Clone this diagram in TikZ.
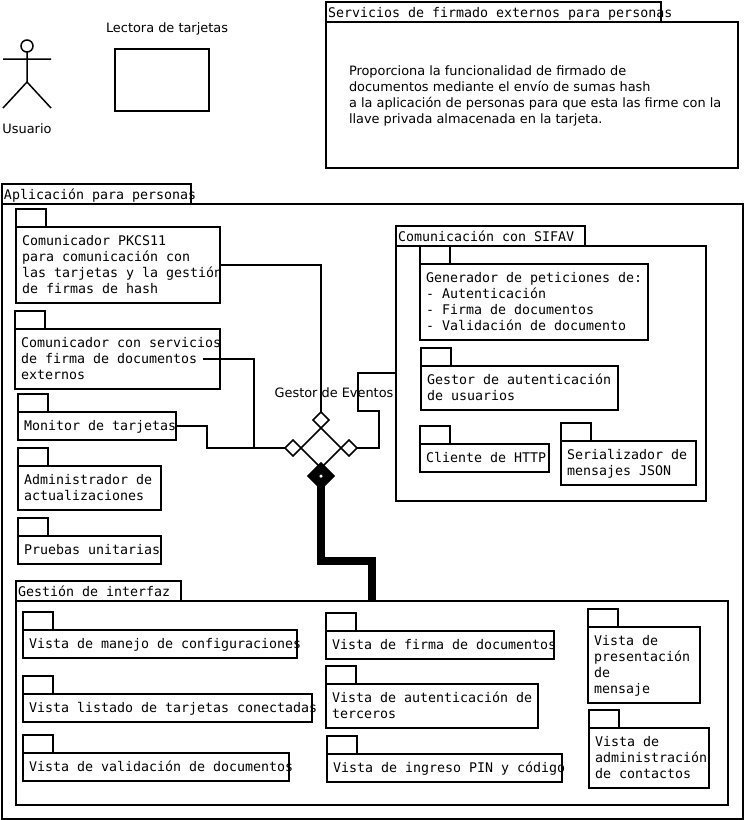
\documentclass[tikz,border=0pt]{standalone}
\usepackage{fontspec}
\setmainfont{DejaVu Sans}
\setmonofont{DejaVu Sans Mono}
\usetikzlibrary{
	calc,
	positioning,
	shapes.geometric
}
\tikzset{
	caja/.style={draw, line width=1.5pt, rectangle, inner sep=0pt, outer sep=0pt, anchor=north west},
	pestana/.style={caja, anchor=south west},
	codigo/.style={inner sep=0pt, outer sep=0pt, anchor=north west, align=left, font=\fontsize{13.3}{16}\ttfamily\selectfont},
	nota/.style={inner sep=0pt, outer sep=0pt, align=left, font=\fontsize{12.9}{16}\selectfont},
	rombo/.style={draw, diamond, aspect=1, inner sep=0pt, outer sep=0pt, line width=1.5pt, minimum width=16pt, minimum height=16pt},
	enlace/.style={line width=1.5pt, line join=miter}
}
% paquete pequeno: nombre, x, y, ancho, alto, texto
\newcommand{\paquete}[6]{
	\node[caja, minimum width=#4, minimum height=#5] (#1) at (#2,#3) {};
	\node[pestana, minimum width=30, minimum height=18] (#1 tab) at (#1.north west) {};
	\node[codigo] (#1 txt) at ($(#1.north west)+(6,6.5)$) {\rule{0pt}{12pt}#6};
}
% paquete grande: nombre, x, y, ancho, alto, ancho pestana, titulo
\newcommand{\grupo}[7]{
	\node[caja, minimum width=#4, minimum height=#5] (#1) at (#2,#3) {};
	\node[pestana, minimum width=#6, minimum height=20] (#1 tab) at (#1.north west) {};
	\node[codigo] (#1 txt) at ($(#1 tab.north west)+(2,3.2)$) {\rule{0pt}{12pt}#7};
}

\begin{document}
\begin{tikzpicture}[x=1pt, y=-1pt]
	\useasboundingbox (0,0) rectangle (744,820);

	% actor
	\draw[enlace] (27,46) circle (6);
	\draw[enlace] (27,52) -- (27,82) (3,59) -- (51,59) (3,108) -- (27,82) -- (51,108);
	\node[nota] (usuario) at (27,129) {Usuario};

	% lectora
	\node[nota] (lectora txt) at (167,29) {Lectora de tarjetas};
	\node[caja, minimum width=94, minimum height=62] (lectora) at (115,49) {};

	% servicios externos
	\grupo{externos}{326}{22}{412}{146}{335}{Servicios de firmado externos para personas}
	\node[nota, anchor=north west] (externos desc) at (349,63.5) {\rule{0pt}{12pt}Proporciona la funcionalidad de firmado de\\documentos mediante el envío de sumas hash\\a la aplicación de personas para que esta las firme con la\\llave privada almacenada en la tarjeta.};

	% aplicacion
	\grupo{app}{2}{204}{741}{615}{189}{Aplicación para personas}
	\paquete{pkcs}{16}{227}{204}{76}{Comunicador PKCS11\\para comunicación con\\las tarjetas y la gestión\\de firmas de hash}
	\paquete{firma}{15}{329}{205}{60}{Comunicador con servicios\\de firma de documentos\\externos}
	\paquete{monitor}{18}{412}{158}{28}{Monitor de tarjetas}
	\paquete{admin}{18}{466}{143}{44}{Administrador de\\actualizaciones}
	\paquete{pruebas}{18}{536}{143}{28}{Pruebas unitarias}

	% SIFAV
	\grupo{sifav}{396}{246}{310}{255}{189}{Comunicación con SIFAV}
	\paquete{generador}{420}{264}{228}{76}{Generador de peticiones de:\\- Autenticación\\- Firma de documentos\\- Validación de documento}
	\paquete{autent}{421}{366}{197}{44}{Gestor de autenticación\\de usuarios}
	\paquete{http}{420}{444}{129}{28}{Cliente de HTTP}
	\paquete{json}{561}{441}{135}{44}{Serializador de\\mensajes JSON}

	% interfaz
	\grupo{gui}{16}{601}{712}{204}{165}{Gestión de interfaz}
	\paquete{vconf}{23}{630}{274}{28}{Vista de manejo de configuraciones}
	\paquete{vlista}{23}{694}{289}{28}{Vista listado de tarjetas conectadas}
	\paquete{vvalida}{23}{753}{266}{28}{Vista de validación de documentos}
	\paquete{vfirma}{326}{631}{228}{28}{Vista de firma de documentos}
	\paquete{vterc}{326}{684}{212}{44}{Vista de autenticación de\\terceros}
	\paquete{vpin}{327}{754}{235}{28}{Vista de ingreso PIN y código}
	\paquete{vmsg}{588}{627}{112}{76}{Vista de\\presentación\\de\\mensaje}
	\paquete{vcont}{589}{728}{120}{60}{Vista de\\administración\\de contactos}

	% gestor de eventos
	\node[nota] (gestor txt) at (334,393) {Gestor de Eventos};
	\node[rombo, minimum width=40pt, minimum height=40pt] (gestor) at (321,448) {};
	\node[rombo] (entrada) at (321,420) {};
	\node[rombo] (izq) at (293,448) {};
	\node[rombo] (der) at (349,448) {};
	\node[rombo, fill=black, minimum width=26pt, minimum height=26pt] (salida) at (321,476) {};

	% conexiones
	\coordinate (firma sal) at (203,359);
	\coordinate (union) at (254,448);
	\draw[enlace] (pkcs.east) -| (entrada.north);
	\draw[enlace] (firma sal) -| (union);
	\draw[enlace] (monitor.east) -- ++(31,0) |- (izq.west);
	\draw[enlace] ($(sifav.west)+(0,-0.5)$) -- ++(-38,0) -- ++(0,38) -- ++(21,0) |- (der.east);
	\draw[line width=7.5pt, line join=miter] (salida.center) -- ++(0,85) -| (gui.north);
	\node[circle, fill=white, inner sep=0pt, minimum size=3.5pt] (salida punto) at (salida) {};
\end{tikzpicture}
\end{document}
